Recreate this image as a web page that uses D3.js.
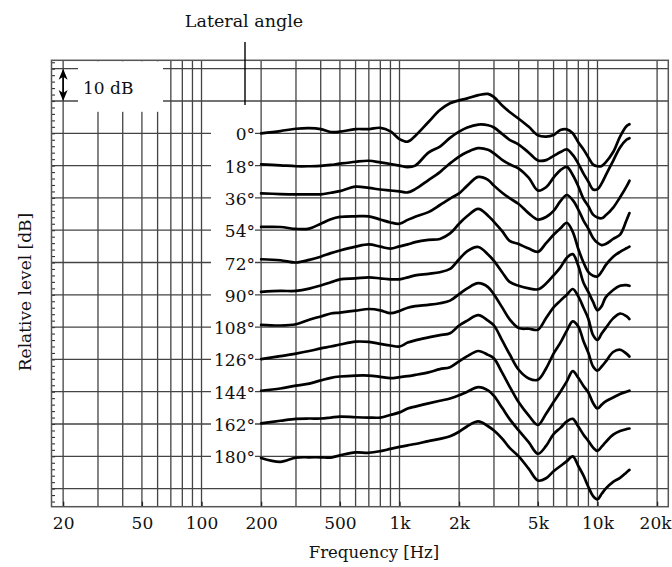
<!DOCTYPE html>
<html>
<head>
<meta charset="utf-8">
<script src="https://cdn.jsdelivr.net/npm/d3@7"></script>
<style>
  body { margin: 0; background: #fff; }
  text { font-family: 'DejaVu Serif', serif; fill: #111; }
</style>
</head>
<body>
<script>
const freqs = [200, 250, 300, 350, 400, 450, 500, 600, 700, 800, 900, 1000,
  1100, 1200, 1400, 1600, 1800, 2000, 2200, 2500, 2800, 3000, 3300, 3600,
  4000, 4500, 5000, 5500, 6000, 6500, 7000, 7500, 8000, 8500, 9000, 9500,
  10000, 10500, 11000, 12000, 13000, 14000, 14500];

const angles = [0, 18, 36, 54, 72, 90, 108, 126, 144, 162, 180];

// dB relative to each curve's own reference line
const deg0 = [0, 0.7, 1.4, 1.6, 1.3, 0.4, 0.5, 1.3, 1.3, 1.7, 0.6, -1.8,
  -2.6, -0.8, 3.5, 7.2, 9.3, 10.2, 10.8, 11.8, 12.2, 11.2, 8.6, 6.6,
  4.5, 2.0, -0.6, -1.0, -0.5, 1.0, 1.2, 0.0, -2.8, -5.0, -7.5, -9.7,
  -10.2, -10.1, -9.0, -5.8, -1.0, 2.2, 2.8];
const deg18 = [0.4, 0.1, -0.2, -0.2, -0.1, 0.2, 0.6, 1.2, 1.5, 1.0, 0.5, 0.0,
  -0.5, 0.0, 4.0, 5.9, 8.6, 10.5, 11.8, 12.7, 12.5, 11.8, 9.8, 8.0,
  6.5, 4.0, 1.6, 1.7, 3.0, 4.2, 5.0, 3.3, 0.6, -2.5, -5.0, -7.4,
  -7.3, -5.5, -3.0, 1.5, 5.6, 8.0, 8.5];
const deg36 = [1.4, 1.2, 1.1, 1.1, 1.1, 1.6, 2.1, 3.5, 3.1, 2.6, 2.3, 2.0,
  1.7, 2.7, 5.5, 8.0, 10.7, 12.8, 14.2, 15.4, 14.9, 13.8, 11.8, 10.4,
  9.1, 6.2, 2.3, 3.3, 6.3, 8.6, 9.6, 7.1, 3.6, -0.3, -2.6, -5.2,
  -6.1, -6.3, -5.4, -3.0, 0.2, 3.5, 5.3];
const deg54 = [1.0, 1.0, 0.4, 0.5, 2.0, 3.4, 4.1, 4.3, 4.3, 3.3, 2.4, 2.0,
  3.2, 4.2, 5.6, 7.8, 9.8, 11.4, 13.8, 16.5, 15.6, 13.8, 11.6, 9.9,
  8.1, 5.2, 3.3, 4.1, 6.0, 9.0, 10.9, 9.3, 6.4, 3.0, 0.4, -2.4,
  -3.9, -4.6, -4.3, -2.7, -1.4, 3.0, 5.3];
const deg72 = [1.0, 0.7, 0.0, 0.8, 1.8, 2.9, 3.7, 4.9, 5.6, 4.9, 4.3, 5.0,
  5.6, 6.3, 7.0, 7.3, 9.0, 12.0, 14.4, 16.6, 14.5, 12.6, 9.7, 6.7,
  5.7, 4.3, 3.3, 6.0, 8.6, 10.6, 12.3, 9.5, 4.2, 0.0, -3.0, -4.1,
  -4.3, -2.8, -0.8, 1.8, 3.3, 4.4, 4.9];
const deg90 = [0.9, 1.2, 1.2, 1.9, 2.9, 3.9, 4.8, 5.1, 5.4, 5.1, 4.8, 4.8,
  5.4, 6.0, 6.5, 7.0, 8.0, 11.0, 13.5, 14.8, 12.5, 10.5, 7.0, 4.0,
  2.8, 2.0, 1.7, 3.5, 6.0, 8.5, 11.5, 12.6, 9.0, 3.7, 0.8, -2.2,
  -4.8, -3.5, -0.8, 1.5, 2.8, 3.0, 2.8];
const deg108 = [0.7, 0.5, 0.9, 2.3, 3.3, 4.2, 4.5, 5.1, 5.6, 5.2, 4.3, 5.0,
  6.0, 6.5, 6.9, 7.4, 8.2, 10.2, 12.0, 13.6, 12.4, 10.1, 6.1, 2.4,
  -0.3, -0.5, -0.8, 2.8, 6.1, 8.2, 10.0, 11.8, 9.5, 6.0, 2.5, -2.5,
  -4.0, -2.0, -0.3, 2.7, 4.2, 3.4, 2.5];
const deg126 = [0.1, 1.0, 1.8, 2.6, 3.4, 4.0, 4.6, 5.5, 5.4, 4.8, 4.3, 4.0,
  5.2, 5.9, 6.8, 7.5, 8.1, 10.5, 12.0, 13.7, 12.0, 10.5, 5.9, 1.6,
  -3.2, -5.9, -6.3, -2.8, 1.8, 5.2, 8.9, 11.8, 10.2, 5.6, 2.0, -2.2,
  -3.5, -2.2, -0.7, 2.3, 3.0, 1.8, 0.9];
const deg144 = [0.3, 1.0, 1.9, 2.5, 3.5, 4.3, 4.7, 5.0, 5.0, 4.6, 4.2, 4.5,
  4.8, 5.2, 6.0, 7.0, 7.6, 9.4, 11.0, 12.6, 11.4, 10.3, 5.9, 1.6,
  -3.3, -7.4, -10.3, -6.8, -3.2, 0.0, 3.2, 6.4, 4.3, 1.8, -0.3, -3.5,
  -5.2, -4.0, -3.0, -1.8, -0.7, 0.0, 0.3];
const deg162 = [0.2, 1.0, 1.6, 1.7, 1.7, 2.0, 2.3, 2.1, 2.0, 2.0, 2.8, 3.6,
  4.8, 5.4, 6.4, 7.2, 7.9, 8.9, 10.0, 11.4, 10.4, 8.7, 5.0, 1.5,
  -2.0, -5.7, -9.2, -6.8, -3.1, -1.2, 0.8, 1.6, -0.8, -3.3, -5.3, -7.3,
  -8.3, -7.0, -5.6, -3.3, -2.2, -1.6, -1.4];
const deg180 = [-0.5, -1.7, -0.4, -0.3, -0.3, -0.4, 0.3, 1.2, 1.1, 1.6, 2.3, 2.9,
  3.4, 3.8, 4.7, 5.4, 6.2, 7.6, 9.3, 10.8, 9.3, 8.0, 5.5, 2.6,
  0.0, -3.9, -7.5, -6.8, -4.6, -3.0, -1.5, 0.0, -3.0, -6.0, -9.5, -12.3,
  -13.3, -11.6, -10.0, -7.9, -6.7, -5.0, -4.2];

const series = [deg0, deg18, deg36, deg54, deg72, deg90, deg108, deg126, deg144, deg162, deg180];

const xTicks = [20, 50, 100, 200, 500, 1000, 2000, 5000, 10000, 20000];
const xTickLabels = ['20', '50', '100', '200', '500', '1k', '2k', '5k', '10k', '20k'];
const gridFreqs = [20, 30, 40, 50, 60, 70, 80, 90,
  100, 200, 300, 400, 500, 600, 700, 800, 900,
  1000, 2000, 3000, 4000, 5000, 6000, 7000, 8000, 9000, 10000, 20000];
const gridLevels = d3.range(20, -111, -10);
const minorLevels = d3.range(-114, 23, 2);

const width = 672;
const height = 567;
const plot = {left: 51.5, right: 668.3, top: 60.3, bottom: 506.7};

const svg = d3.select('body')
  .append('svg')
  .attr('width', width)
  .attr('height', height);

const x = d3.scaleLog()
  .domain([17.47, 22785])
  .range([plot.left, plot.right]);

const y = d3.scaleLinear()
  .domain([-115.6, 22.6])
  .range([plot.bottom, plot.top]);

// grid
const grid = svg.append('g')
  .attr('stroke', '#444')
  .attr('stroke-width', 1.3);

grid.selectAll('.vline')
  .data(gridFreqs)
  .enter()
  .append('line')
  .attr('x1', d => x(d))
  .attr('x2', d => x(d))
  .attr('y1', plot.top)
  .attr('y2', plot.bottom);

grid.selectAll('.hline')
  .data(gridLevels)
  .enter()
  .append('line')
  .attr('x1', plot.left)
  .attr('x2', plot.right)
  .attr('y1', d => y(d))
  .attr('y2', d => y(d));

// minor dB ticks on the left edge
const yAxis = d3.axisLeft(y)
  .tickValues(minorLevels)
  .tickSize(-3.5)
  .tickFormat('');
svg.append('g')
  .attr('transform', `translate(${plot.left}, 0)`)
  .call(yAxis)
  .call(g => g.select('.domain').remove())
  .selectAll('line')
  .attr('stroke', '#333')
  .attr('stroke-width', 1.1);

// frequency axis labels
const xAxis = d3.axisBottom(x)
  .tickValues(xTicks)
  .tickFormat((d, i) => xTickLabels[i])
  .tickSizeInner(-5)
  .tickSizeOuter(0)
  .tickPadding(10);
const xg = svg.append('g')
  .attr('transform', `translate(0, ${plot.bottom})`)
  .call(xAxis);
xg.select('.domain').remove();
xg.selectAll('line').attr('stroke', '#222').attr('stroke-width', 1.3);
xg.selectAll('text')
  .attr('font-size', 17)
  .style('font-family', "'DejaVu Serif', serif")
  .attr('fill', '#111');
// last label sits against the right edge
xg.selectAll('.tick')
  .filter(d => d === 20000)
  .select('text')
  .attr('text-anchor', 'end')
  .attr('x', 671 - x(20000));

// white patches behind the scale note and the angle labels
svg.append('rect')
  .attr('x', 78).attr('y', plot.top + 1)
  .attr('width', 85).attr('height', 50.5)
  .attr('fill', '#fff');
svg.append('rect')
  .attr('x', 211).attr('y', 112)
  .attr('width', 44).attr('height', 358)
  .attr('fill', '#fff');

// frame
svg.append('rect')
  .attr('x', plot.left).attr('y', plot.top)
  .attr('width', plot.right - plot.left)
  .attr('height', plot.bottom - plot.top)
  .attr('fill', 'none')
  .attr('stroke', '#555')
  .attr('stroke-width', 1.5);

// 10 dB scale arrow
const ax = x(20);
const aTop = y(20);
const aBot = y(10);
svg.append('line')
  .attr('x1', ax).attr('x2', ax)
  .attr('y1', aTop + 6).attr('y2', aBot - 6)
  .attr('stroke', '#000')
  .attr('stroke-width', 1.6);
svg.append('path')
  .attr('d', `M${ax},${aTop} L${ax - 4.5},${aTop + 11} L${ax},${aTop + 8} L${ax + 4.5},${aTop + 11} Z`)
  .attr('fill', '#000');
svg.append('path')
  .attr('d', `M${ax},${aBot} L${ax - 4.5},${aBot - 11} L${ax},${aBot - 8} L${ax + 4.5},${aBot - 11} Z`)
  .attr('fill', '#000');
svg.append('text')
  .attr('x', 83)
  .attr('y', 94)
  .attr('font-size', 17)
  .text('10 dB');

// curves
const line = d3.line()
  .x((d, i) => x(freqs[i]))
  .y(d => y(d))
  .curve(d3.curveCatmullRom.alpha(0.5));

svg.selectAll('.curve')
  .data(series)
  .enter()
  .append('path')
  .attr('class', 'curve')
  .attr('d', (s, k) => line(s.map(v => v - 10 * k)))
  .attr('fill', 'none')
  .attr('stroke', '#000')
  .attr('stroke-width', 2.7)
  .attr('stroke-linejoin', 'round')
  .attr('stroke-linecap', 'round');

// angle labels
svg.selectAll('.angle')
  .data(angles)
  .enter()
  .append('text')
  .attr('class', 'angle')
  .attr('x', 255)
  .attr('y', (d, k) => y(-10 * k) + 7)
  .attr('text-anchor', 'end')
  .attr('font-size', 17)
  .text(d => d + '°');

// lateral angle pointer
svg.append('line')
  .attr('x1', 245).attr('x2', 245)
  .attr('y1', 42).attr('y2', 105)
  .attr('stroke', '#000')
  .attr('stroke-width', 1.4);
svg.append('text')
  .attr('x', 244)
  .attr('y', 27)
  .attr('text-anchor', 'middle')
  .attr('font-size', 17.5)
  .text('Lateral angle');

// axis titles
svg.append('text')
  .attr('x', 374)
  .attr('y', 558)
  .attr('text-anchor', 'middle')
  .attr('font-size', 16.5)
  .text('Frequency [Hz]');

svg.append('text')
  .attr('transform', 'translate(31, 292) rotate(-90)')
  .attr('text-anchor', 'middle')
  .attr('font-size', 17)
  .text('Relative level [dB]');
</script>
</body>
</html>
